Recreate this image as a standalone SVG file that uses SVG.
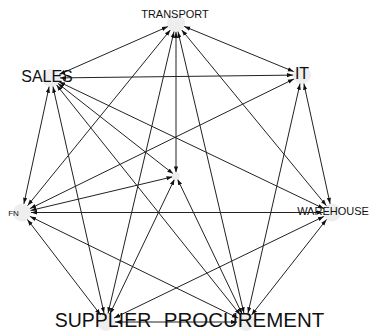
<svg xmlns="http://www.w3.org/2000/svg" width="369" height="334" viewBox="0 0 369 334">
<style>
.e{stroke:#222;stroke-width:1;fill:none}
.n{fill:#eeeeee;stroke:none}
text{font-family:"Liberation Sans",Arial,sans-serif;fill:#111;text-anchor:middle}
</style>
<defs>
<marker id="a" viewBox="0 0 10 10" refX="25" refY="5" markerWidth="6" markerHeight="6" markerUnits="userSpaceOnUse" orient="auto-start-reverse"><path d="M0,1.5L10,5L0,8.5z" fill="#111"/></marker>
<marker id="b" viewBox="0 0 10 10" refX="16" refY="5" markerWidth="6" markerHeight="6" markerUnits="userSpaceOnUse" orient="auto-start-reverse"><path d="M0,1.5L10,5L0,8.5z" fill="#111"/></marker>
</defs>
<rect width="369" height="334" fill="#fff"/>
<g id="edges">
<line class="e" x1="176" y1="23" x2="51" y2="78" marker-start="url(#a)" marker-end="url(#a)"/>
<line class="e" x1="176" y1="23" x2="302" y2="75" marker-start="url(#a)" marker-end="url(#a)"/>
<line class="e" x1="176" y1="23" x2="332" y2="212.5" marker-start="url(#a)" marker-end="url(#a)"/>
<line class="e" x1="176" y1="23" x2="246" y2="322" marker-start="url(#a)" marker-end="url(#a)"/>
<line class="e" x1="176" y1="23" x2="106" y2="322" marker-start="url(#a)" marker-end="url(#a)"/>
<line class="e" x1="176" y1="23" x2="22" y2="212.5" marker-start="url(#a)" marker-end="url(#a)"/>
<line class="e" x1="176" y1="23" x2="176" y2="176" marker-start="url(#a)" marker-end="url(#b)"/>
<line class="e" x1="51" y1="78" x2="302" y2="75" marker-start="url(#a)" marker-end="url(#a)"/>
<line class="e" x1="51" y1="78" x2="332" y2="212.5" marker-start="url(#a)" marker-end="url(#a)"/>
<line class="e" x1="51" y1="78" x2="246" y2="322" marker-start="url(#a)" marker-end="url(#a)"/>
<line class="e" x1="51" y1="78" x2="106" y2="322" marker-start="url(#a)" marker-end="url(#a)"/>
<line class="e" x1="51" y1="78" x2="22" y2="212.5" marker-start="url(#a)" marker-end="url(#a)"/>
<line class="e" x1="51" y1="78" x2="176" y2="176" marker-start="url(#a)" marker-end="url(#b)"/>
<line class="e" x1="302" y1="75" x2="332" y2="212.5" marker-start="url(#a)" marker-end="url(#a)"/>
<line class="e" x1="302" y1="75" x2="246" y2="322" marker-start="url(#a)" marker-end="url(#a)"/>
<line class="e" x1="302" y1="75" x2="22" y2="212.5" marker-start="url(#a)" marker-end="url(#a)"/>
<line class="e" x1="332" y1="212.5" x2="246" y2="322" marker-start="url(#a)" marker-end="url(#a)"/>
<line class="e" x1="332" y1="212.5" x2="106" y2="322" marker-start="url(#a)" marker-end="url(#a)"/>
<line class="e" x1="332" y1="212.5" x2="22" y2="212.5" marker-start="url(#a)" marker-end="url(#a)"/>
<line class="e" x1="246" y1="322" x2="106" y2="322" marker-start="url(#a)" marker-end="url(#a)"/>
<line class="e" x1="246" y1="322" x2="22" y2="212.5" marker-start="url(#a)" marker-end="url(#a)"/>
<line class="e" x1="106" y1="322" x2="22" y2="212.5" marker-start="url(#a)" marker-end="url(#a)"/>
<line class="e" x1="22" y1="212.5" x2="176" y2="176" marker-start="url(#a)" marker-end="url(#b)"/>
<line class="e" x1="176" y1="176" x2="106" y2="322" marker-start="url(#b)" marker-end="url(#a)"/>
<line class="e" x1="176" y1="176" x2="246" y2="322" marker-start="url(#b)" marker-end="url(#a)"/>
</g>
<g id="n-transport"><circle class="n" cx="176" cy="23" r="9"/><text x="175" y="18" font-size="11">TRANSPORT</text></g>
<g id="n-sales"><circle class="n" cx="51" cy="78" r="9"/><text x="47" y="82" font-size="16">SALES</text></g>
<g id="n-it"><circle class="n" cx="302" cy="75" r="9"/><text x="302" y="79" font-size="16">IT</text></g>
<g id="n-warehouse"><circle class="n" cx="332" cy="212.5" r="9"/><text x="333" y="215" font-size="11">WAREHOUSE</text></g>
<g id="n-procurement"><circle class="n" cx="246" cy="322" r="9"/><text x="244" y="327" font-size="20.5">PROCUREMENT</text></g>
<g id="n-supplier"><circle class="n" cx="106" cy="322" r="9"/><text x="103" y="327" font-size="19.5">SUPPLIER</text></g>
<g id="n-fn"><circle class="n" cx="22" cy="212.5" r="9"/><text x="13.5" y="216" font-size="8">FN</text></g>
<g id="n-center"><circle class="n" cx="176" cy="176" r="4"/></g>
</svg>
